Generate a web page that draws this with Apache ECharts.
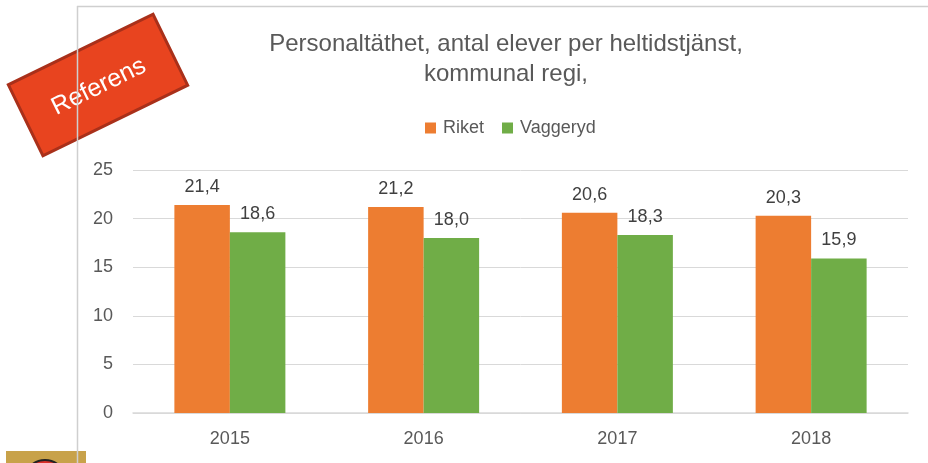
<!DOCTYPE html>
<html>
<head>
<meta charset="utf-8">
<script src="https://cdn.jsdelivr.net/npm/echarts@6/dist/echarts.min.js"></script>
<style>html,body{margin:0;padding:0;background:#fff}#c{width:928px;height:463px}</style>
</head>
<body>
<div id="c"></div>
<script>
const categories = ['2015', '2016', '2017', '2018'];
const riket = [21.4, 21.2, 20.6, 20.3];
const vaggeryd = [18.6, 18.0, 18.3, 15.9];
const seriesNames = ['Riket', 'Vaggeryd'];
const yTicks = [0, 5, 10, 15, 20, 25];

const FONT = '"Liberation Sans", "Open Sans", sans-serif';
const chart = echarts.init(document.getElementById('c'));
const fmt = p => p.value.toFixed(1).replace('.', ',');
const deg = Math.PI / 180;

chart.setOption({
  animation: false,
  title: {
    text: 'Personaltäthet, antal elever per heltidstjänst,\nkommunal regi,',
    left: 501, top: 24, textAlign: 'center',
    textStyle: { fontFamily: FONT, fontSize: 24, fontWeight: 'normal', color: '#595959', lineHeight: 30 }
  },
  legend: {
    data: seriesNames, left: 420, top: 114, icon: 'rect', itemWidth: 11, itemHeight: 11, itemGap: 18,
    textStyle: { fontFamily: FONT, fontSize: 18, color: '#595959', padding: [0, 0, 0, 2] }
  },
  grid: { left: 133, right: 20, top: 170, bottom: 50 },
  xAxis: {
    type: 'category', data: categories,
    axisLine: { lineStyle: { color: '#D9D9D9', width: 1.5 } },
    axisTick: { show: false },
    axisLabel: { fontFamily: FONT, fontSize: 18, color: '#595959', margin: 17 }
  },
  yAxis: {
    type: 'value', min: yTicks[0], max: yTicks[yTicks.length - 1], interval: 5,
    axisLine: { show: false }, axisTick: { show: false },
    splitLine: { lineStyle: { color: '#D9D9D9', width: 1 } },
    axisLabel: { fontFamily: FONT, fontSize: 18, color: '#595959', margin: 20 }
  },
  series: [
    { name: seriesNames[0], type: 'bar', data: riket, barWidth: 55.5, barGap: '0%',
      itemStyle: { color: '#ED7D31' },
      label: { show: true, position: 'top', distance: 9, formatter: fmt, fontFamily: FONT, fontSize: 18, color: '#404040' } },
    { name: seriesNames[1], type: 'bar', data: vaggeryd, barWidth: 55.5, barGap: '0%',
      itemStyle: { color: '#70AD47' },
      label: { show: true, position: 'top', distance: 9, formatter: fmt, fontFamily: FONT, fontSize: 18, color: '#404040' } }
  ],
  graphic: [
    { type: 'rect', shape: { x: 6, y: 451, width: 80, height: 20 }, style: { fill: '#C8A24A' }, z: 1 },
    { type: 'circle', shape: { cx: 45, cy: 481, r: 21 }, style: { fill: '#D9302A', stroke: '#222', lineWidth: 2 }, z: 2 },
    { type: 'line', shape: { x1: 77.5, y1: 6, x2: 77.5, y2: 470 }, style: { stroke: '#CFCFCF', lineWidth: 1.5 }, z: 3 },
    { type: 'line', shape: { x1: 77, y1: 6.5, x2: 930, y2: 6.5 }, style: { stroke: '#CFCFCF', lineWidth: 1.5 }, z: 3 },
    { type: 'group', x: 98, y: 85, rotation: 26 * deg, z: 10, children: [
      { type: 'rect', shape: { x: -80.5, y: -39.5, width: 161, height: 79 },
        style: { fill: '#E8441F', stroke: '#A9301A', lineWidth: 3 } },
      { type: 'text', x: 0, y: 2, style: { text: 'Referens', fill: '#FFFFFF', font: '25px "Liberation Sans", Arial, sans-serif', align: 'center', verticalAlign: 'middle' } }
    ] }
  ]
});
</script>
</body>
</html>
